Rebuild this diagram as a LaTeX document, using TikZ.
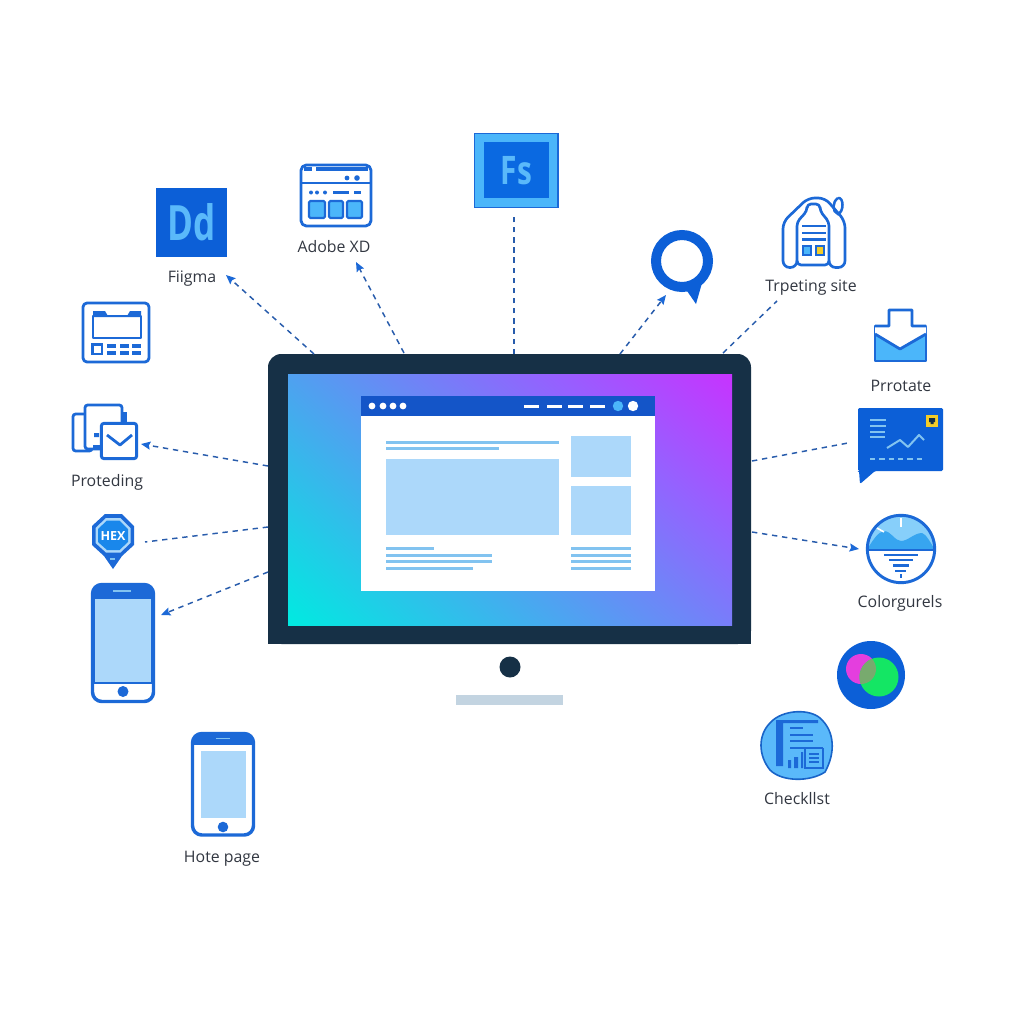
\documentclass[tikz,border=0pt]{standalone}
\usepackage{fontspec}
\usepackage{graphicx}
\setmainfont{Open Sans}
\usetikzlibrary{arrows.meta}
\definecolor{frameC}{RGB}{22,48,70}
\definecolor{iconB}{RGB}{28,105,215}
\definecolor{deepB}{RGB}{12,95,215}
\definecolor{skyB}{RGB}{75,182,250}
\definecolor{paleB}{RGB}{172,216,250}
\definecolor{lineB}{RGB}{130,195,240}
\definecolor{dashC}{RGB}{40,92,172}
\definecolor{labelC}{RGB}{50,55,65}
\definecolor{headC}{RGB}{20,85,200}
\definecolor{yellowC}{RGB}{245,205,40}
\definecolor{letterB}{RGB}{90,185,250}
\pgfdeclarefunctionalshading{screengrad}{\pgfpointorigin}{\pgfpoint{100bp}{100bp}}{}{
25 sub 50 div exch 25 sub 50 div exch
2 copy .31 mul exch .47 mul add 0 add
3 1 roll
2 copy -.29 mul exch -.43 mul add .92 add
3 1 roll
.06 mul exch .10 mul add .88 add
}
\tikzset{
  x=0.75pt,y=-0.75pt,
  link/.style={draw=dashC,line width=1.1pt,dash pattern=on 4pt off 3.6pt},
  linkarrow/.style={link,-{Stealth[length=7pt,width=6pt,fill=iconB,color=iconB,inset=1pt]}},
  lbl/.style={font=\fontsize{11.9pt}{13pt}\selectfont,text=labelC,inner sep=0pt,text height=8pt,text depth=0pt},
  anchorpt/.style={inner sep=0pt,minimum size=0pt},
  ico/.style={draw=iconB,line width=2.1pt,line join=round},
  bar/.style={fill=lineB},
  pale/.style={fill=paleB},
}
\begin{document}
\begin{tikzpicture}
\useasboundingbox (0,0) rectangle (1024,1024);
\fill[white] (0,0) rectangle (1024,1024);

% monitor
\path[fill=frameC,rounded corners=10pt] (268,644) -- (268,354) -- (751,354) -- (751,644) -- cycle;
\fill[frameC] (268,620) rectangle (751,644);
\shade[shading=screengrad] (288,374) rectangle (732,625);
\fill[frameC] (510,667) circle (10.5);
\fill[fill={rgb,255:red,195;green,212;blue,225}] (456,695) rectangle (563,705);
% window
\fill[white] (361,396) rectangle (655,591);
\fill[headC] (361,396) rectangle (655,416);
\foreach \xx in {372,383,393,403} \fill[white] (\xx,406) circle (3.4);
\foreach \xx in {524,547,568,590} \fill[white] (\xx,404.6) rectangle ++(15,3);
\fill[skyB] (618,406) circle (5.2);
\fill[white] (633,406) circle (5.2);
\fill[bar] (386,440.5) rectangle (559,443.5);
\fill[bar] (386,447) rectangle (499,450);
\fill[pale] (386,459) rectangle (559,535);
\fill[pale] (571,436) rectangle (631,477);
\fill[pale] (571,486) rectangle (631,535);
\fill[bar] (386,547) rectangle (434,550);
\fill[bar] (386,553.5) rectangle (492,556.5);
\fill[bar] (386,560) rectangle (492,563);
\fill[bar] (386,567) rectangle (473,570);
\foreach \yy in {547,553.5,560,567} \fill[bar] (571,\yy) rectangle (631,\yy+3);

% Dd
\node[fill=deepB,minimum width=53.2pt,minimum height=51.7pt,inner sep=0pt,anchor=north west,
  text=letterB,font=\bfseries\fontsize{36.5pt}{36pt}\selectfont] (dd) at (156,188) {\scalebox{.72}[1]{Dd}};
\node[lbl] (tfigma) at (192,277) {Fiigma};

% browser icon
\draw[ico,rounded corners=4pt] (301,165) rectangle (371,226);
\node[anchorpt] (xd) at (336,195) {};
\draw[ico] (301,183) -- (371,183);
\draw[iconB,line width=2.4pt] (304,169) -- (312,169) (316,169) -- (368,169);
\fill[iconB] (347,178) circle (2.4) (357,178) circle (2.8);
\foreach \xx in {311,317,325} \fill[iconB] (\xx,192.5) circle (2);
\draw[iconB,line width=2.2pt] (333,192.5) -- (349,192.5) (354,192.5) -- (361,192.5);
\foreach \xx/\xw in {309/16,329/14,347/15}
  \draw[fill=skyB,draw=iconB,line width=1.6pt,rounded corners=1pt] (\xx,201) rectangle ++(\xw,17);
\node[lbl] (txd) at (334,247) {Adobe XD};

% Fs
\node[draw=iconB,fill=skyB,line width=.9pt,minimum width=62.5pt,minimum height=55.5pt,inner sep=0pt,anchor=north west] (fs) at (474,133) {};
\node[fill={rgb,255:red,10;green,105;blue,225},minimum width=48.4pt,minimum height=42pt,inner sep=0pt,anchor=north west,
  text=letterB,font=\bfseries\fontsize{29.5pt}{30pt}\selectfont] (fsin) at (484,142) {\scalebox{.76}[1]{Fs}};

% speech circle
\node[draw=deepB,line width=7.5pt,circle,minimum size=39pt,inner sep=0pt] (talk) at (682,261) {};
\fill[deepB] (685,288) -- (696,304) -- (702,283) -- cycle;

% house icon
\begin{scope}[ico,line width=2pt,rounded corners=3pt]
\draw (797,265) -- (829,265) -- (829,222) -- (820,211) -- (820,204) -- (807,204) -- (807,211) -- (797,222) -- cycle;
\draw (797,263) [rounded corners=5pt] -- (797,267.5) -- (783,267.5) -- (783,222) -- (808,198) -- (825,198) -- (845,221) -- (845,267.5) -- (829,267.5) -- (829,263);
\end{scope}
\node[anchorpt] (house) at (813,233) {};
\draw[iconB,line width=1.9pt] (838,198) .. controls (844,197) and (844,212) .. (838,214) .. controls (832,212) and (832,202) .. (838,198);
\draw[iconB,line width=1.8pt] (802,226) -- (826,226) (802,233) -- (826,233) (802,239.5) -- (826,239.5);
\draw[iconB,fill=skyB,line width=1pt] (803,246) rectangle (811,255);
\draw[iconB,fill=yellowC,line width=1pt] (816,246) rectangle (824,255);
\node[lbl] (thouse) at (811,286) {Trpeting site};

% envelope
\draw[draw=iconB,fill=skyB,line width=2.1pt,line join=round] (875,326) rectangle (926,361);
\fill[white] (875,326) -- (889,326) -- (889,310) -- (912,310) -- (912,326) -- (926,326) -- (926,334) -- (900,349) -- (875,334) -- cycle;
\draw[iconB,line width=2.1pt,line join=round] (875,334) -- (900,349) -- (926,334) (875,326) -- (889,326) -- (889,310) -- (912,310) -- (912,326) -- (926,326);
\node[anchorpt] (mail) at (900,335) {};
\node[lbl] (tmail) at (901,386) {Prrotate};

% report bubble
\path[fill=deepB,rounded corners=1pt] (858,408) -- (943,408) -- (943,471) -- (875,471) -- (860,484) -- (859,471) -- (858,471) -- cycle;
\node[anchorpt] (report) at (900,440) {};
\draw[lineB,line width=1pt] (870,420) -- (886,420) (870,426) -- (886,426) (870,432) -- (885,432) (870,437) -- (885,437);
\draw[lineB,line width=1.5pt,line join=round] (887,448) -- (900,440) -- (908,447) -- (919,435) -- (924,440);
\draw[lineB,line width=1.2pt,dash pattern=on 4pt off 3pt] (870,459) -- (923,459);
\fill[yellowC] (926,415) rectangle (938,427);
\fill[frameC] (929,418) rectangle (935,422) (930.5,422) rectangle (933.5,424);

% calendar
\draw[ico,rounded corners=3pt] (83,303) rectangle (149,362);
\node[anchorpt] (cal) at (116,332) {};
\draw[ico,line width=1.8pt] (93,316) rectangle (141,338);
\fill[iconB] (93,311) -- (105,311) -- (108,316) -- (127,316) -- (130,311) -- (141,311) -- (141,317) -- (93,317) -- cycle;
\draw[iconB,line width=1.8pt] (92.5,344.5) rectangle (102,354);
\foreach \xx in {107,120,132} {\fill[iconB] (\xx,344) rectangle ++(9,3.6); \fill[iconB] (\xx,351) rectangle ++(9,3.6);}

% stack icon
\draw[ico,fill=white,rounded corners=2pt] (73,414) rectangle (92,451);
\draw[ico,fill=white,rounded corners=2pt] (85,405) rectangle (122,449);
\fill[iconB] (122,412) rectangle (127,422);
\fill[iconB] (94,433) rectangle (99,437) (93,445) rectangle (100,449);
\node[draw=iconB,line width=2.2pt,fill=white,rounded corners=2pt,minimum width=26.5pt,minimum height=26.5pt,inner sep=0pt] (stack) at (119,441) {};
\draw[iconB,line width=2.1pt,line join=round] (107,435) -- (120,445) -- (132,435);
\node[lbl] (tstack) at (107,481) {Proteding};

% hex pin
\path[fill=iconB] (105,514) -- (122,514) -- (134,526) -- (134,545) -- (122,556) -- (113,569) -- (104,556) -- (92,545) -- (92,526) -- cycle;
\path[fill=paleB] (106,518) -- (120.5,518) -- (130.5,528) -- (130.5,543) -- (120.5,552.5) -- (106,552.5) -- (95.5,543) -- (95.5,528) -- cycle;
\path[fill={rgb,255:red,25;green,135;blue,235}] (107,520.5) -- (119.5,520.5) -- (128,529) -- (128,542) -- (119.5,550) -- (107,550) -- (98,542) -- (98,529) -- cycle;
\node[inner sep=0pt,text=white,font=\bfseries\fontsize{9.4pt}{10pt}\selectfont] (hex) at (113,536) {HEX};
\draw[lineB,line width=.9pt] (110,559) -- (115,559);

% phone 1
\draw[draw=iconB,fill=white,line width=2.6pt,rounded corners=7pt] (92.5,584.5) rectangle (153.5,701.5);
\begin{scope}
\clip[rounded corners=7pt] (92.5,584.5) rectangle (153.5,701.5);
\fill[iconB] (90,580) rectangle (156,598);
\end{scope}
\draw[fill=paleB,draw=iconB,line width=1pt] (94,598) rectangle (152,683);
\draw[lineB,line width=1pt] (113,591) -- (131,591);
\fill[iconB] (123,691.5) circle (5.5);
\node[anchorpt] (phonea) at (123,640) {};

% phone 2
\draw[draw=iconB,fill=white,line width=2.6pt,rounded corners=7pt] (192.5,733.5) rectangle (253.5,835);
\begin{scope}
\clip[rounded corners=7pt] (192.5,733.5) rectangle (253.5,835);
\fill[iconB] (190,730) rectangle (256,745);
\end{scope}
\fill[paleB] (201,751) rectangle (246,818);
\draw[lineB,line width=1pt] (216,738.5) -- (230,738.5);
\fill[iconB] (223,827) circle (5.3);
\node[anchorpt] (phoneb) at (223,785) {};
\node[lbl] (tphoneb) at (222,857) {Hote page};

% funnel circle
\begin{scope}
\clip (901,549) circle (35);
\fill[white] (866,514) rectangle (936,584);
\fill[fill={rgb,255:red,135;green,207;blue,250}] (866,514) rectangle (936,550);
\fill[fill={rgb,255:red,55;green,165;blue,240}] (866,550) -- (868,548) .. controls (873,540) and (878,532) .. (884,531) .. controls (891,531) and (895,541) .. (901,541) .. controls (908,541) and (914,533) .. (922,533) .. controls (926,534) and (930,542) .. (934,548) -- (936,550) -- cycle;
\end{scope}
\node[draw=iconB,line width=2.2pt,circle,minimum size=50.5pt,inner sep=0pt] (funnel) at (901,549) {};
\draw[iconB,line width=1.3pt] (867,550) -- (935,550);
\draw[white,line width=1.4pt] (901,518) -- (901,527);
\draw[white,line width=1.2pt] (877,528) -- (884,532);
\draw[iconB,line width=1.9pt] (884,555) -- (918,555) (889,560) -- (913,560);
\draw[iconB,line width=2pt] (893,565.5) -- (909,565.5) (895,571) -- (906,571);
\draw[iconB,line width=1.4pt] (901,574) -- (901,578);
\node[lbl] (tfunnel) at (900,602) {Colorgurels};

% colour circles
\node[fill=deepB,circle,minimum size=51pt,inner sep=0pt] (mix) at (871,675) {};
\fill[fill={rgb,255:red,228;green,62;blue,222}] (861,669) circle (15);
\fill[fill={rgb,255:red,20;green,230;blue,100}] (879,677) circle (19.5);
\begin{scope}
\clip (861,669) circle (15);
\fill[fill={rgb,255:red,120;green,170;blue,110}] (879,677) circle (19.5);
\end{scope}

% checklist blob
\path[fill={rgb,255:red,90;green,185;blue,250},draw={rgb,255:red,25;green,100;blue,200},line width=1.2pt]
 (770,723) .. controls (782,709) and (812,708) .. (822,720) .. controls (834,732) and (836,752) .. (825,772) .. controls (810,782) and (782,782) .. (770,770) .. controls (758,755) and (758,735) .. (770,723) -- cycle;
\node[anchorpt] (check) at (797,745) {};
\fill[iconB] (776,722) rectangle (783,766) (776,720) rectangle (818,723);
\draw[iconB,line width=1.8pt] (790,728) -- (803,728) (790,735) -- (813,735) (790,741) -- (813,741) (790,748) -- (823,748);
\draw[iconB,line width=1.5pt] (805,748) -- (805,768) -- (823,768) -- (823,748);
\draw[iconB,line width=1.2pt] (809,754) -- (819,754) (809,758) -- (819,758) (809,762) -- (819,762);
\fill[iconB] (788,760) rectangle (791,768) (794,757) rectangle (798,768) (801,752) rectangle (803,768);
\node[lbl] (tcheck) at (797,799) {Checkllst};

% connector ends
\coordinate (mA) at (314,354);
\coordinate (mB) at (404,353);
\coordinate (mC) at (514,354);
\coordinate (mD) at (620,354);
\coordinate (mE) at (723,353);
\coordinate (mF) at (752,461);
\coordinate (mG) at (752,532);
\coordinate (mH) at (268,466);
\coordinate (mI) at (268,527);
\coordinate (mJ) at (268,572);
\coordinate (eA) at (226,275);
\coordinate (eB) at (356,262);
\coordinate (eC) at (514,214);
\coordinate (eD) at (666,295);
\coordinate (eE) at (777,301);
\coordinate (eF) at (848,443);
\coordinate (eG) at (859,549);
\coordinate (eH) at (141,444);
\coordinate (eI) at (145,542);
\coordinate (eJ) at (161,615);
\draw[linkarrow] (mA) -- (eA);
\draw[linkarrow] (mB) -- (eB);
\draw[link] (mC) -- (eC);
\draw[linkarrow] (mD) -- (eD);
\draw[link] (mE) -- (eE);
\draw[link] (mF) -- (eF);
\draw[linkarrow] (mG) -- (eG);
\draw[linkarrow] (mH) -- (eH);
\draw[link] (mI) -- (eI);
\draw[linkarrow] (mJ) -- (eJ);
\end{tikzpicture}
\end{document}
